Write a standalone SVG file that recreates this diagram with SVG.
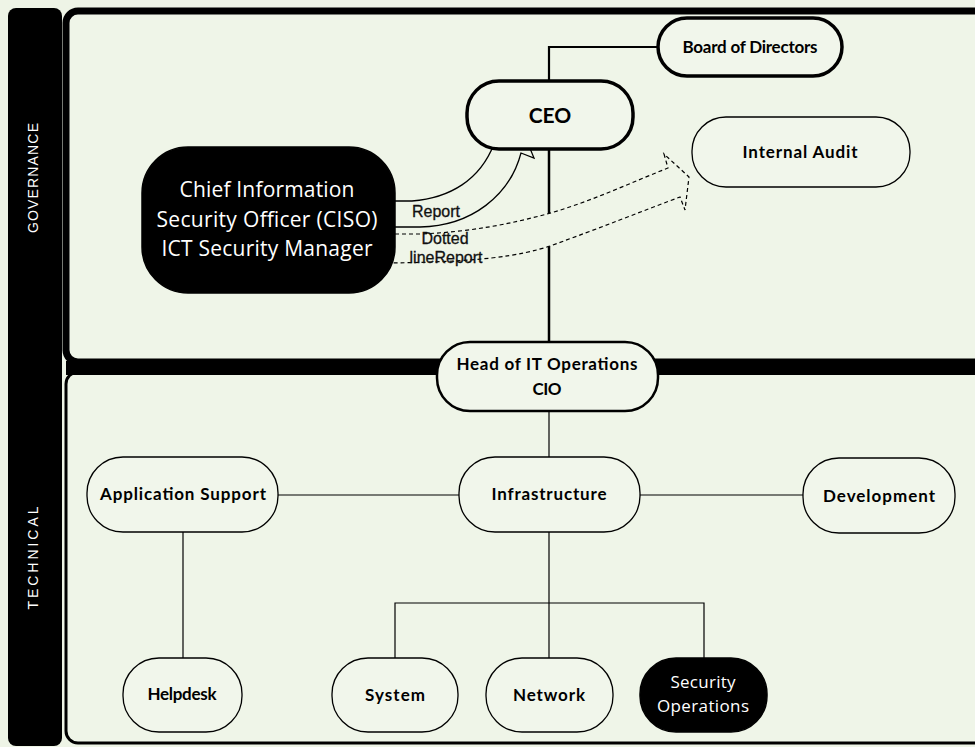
<svg xmlns="http://www.w3.org/2000/svg" width="975" height="747" viewBox="0 0 975 747">
<style>
  .bg{fill:#eef4e6}
  .pnl{fill:#eff5e8;stroke:#000}
  .node{fill:#f1f6eb;stroke:#000}
  .dark{fill:#000;stroke:#000;stroke-width:1.5}
  .w35{stroke-width:3.5}
  .w25{stroke-width:2.5}
  .w13{stroke-width:1.3}
  .lbl{font-family:Lato,"Open Sans","Liberation Sans",sans-serif;font-weight:700;font-size:17px;text-anchor:middle;fill:#000}
  .wl{font-family:"Open Sans","Liberation Sans",sans-serif;font-size:21px;text-anchor:middle;fill:#fff}
  .side{font-family:"Liberation Sans",Arial,sans-serif;font-size:14px;text-anchor:middle;fill:#fff}
  .edge{fill:none;stroke:#000}
  .elbl{font-family:"Liberation Sans",Arial,sans-serif;font-size:16px;text-anchor:middle;fill:#111;stroke:#111;stroke-width:0.3}
</style>
<rect class="bg" x="0" y="0" width="975" height="747"/>

<g id="lanes">
  <rect x="8" y="8" width="54" height="738" rx="8" fill="#000"/>
  <rect class="pnl" x="66" y="11" width="930" height="351" rx="12" stroke-width="7"/>
  <rect class="pnl" x="66" y="372" width="930" height="371" rx="12" stroke-width="3"/>
  <rect x="66" y="361" width="930" height="14" fill="#000"/>
  <text class="side" transform="translate(38,178) rotate(-90)" textLength="110">GOVERNANCE</text>
  <text class="side" transform="translate(38,558) rotate(-90)" textLength="103">TECHNICAL</text>
</g>

<g id="connectors">
  <path class="edge" d="M549,81 V47 H658" stroke-width="2.2"/>
  <path class="edge" d="M549,149 V342" stroke-width="2.5"/>
  <path class="edge" d="M549,411 V457" stroke-width="1.2"/>
  <path class="edge" d="M278,495 H459 M640,495 H803" stroke-width="1.2"/>
  <path class="edge" d="M183,532 V658" stroke-width="1.2"/>
  <path class="edge" d="M549,532 V658 M395,658 V603 H704 V658" stroke-width="1.2"/>
  <g id="edge-report">
    <path d="M388,201 L412,201 C450,198 480,180 494,144 L486,139 L515,112 L534,158 L521,153 C510,195 472,226 420,227 L388,227 Z" fill="#eff5e8" stroke="#000" stroke-width="1.3"/>
    <text class="elbl" x="436" y="217">Report</text>
  </g>
  <g id="edge-dotted">
    <path d="M388,234 L420,234 C470,232 510,224 547,214 C590,202 630,183 668,168 L664,154 L689,177 L685,210 L680,197 C640,212 600,228 550,246 C520,256 480,262 388,263 Z" fill="#eff5e8" stroke="#000" stroke-width="1.2" stroke-dasharray="4 3"/>
    <text class="elbl" x="445" y="244">Dotted</text>
    <text class="elbl" x="446" y="263">lineReport</text>
  </g>
</g>

<g id="board">
  <rect class="node w35" x="658" y="18" width="184" height="58" rx="29"/>
  <text class="lbl" x="750" y="53" textLength="135">Board of Directors</text>
</g>
<g id="ceo">
  <rect class="node w35" x="467" y="81" width="166" height="68" rx="32"/>
  <text class="lbl" x="550" y="123" style="font-size:21px">CEO</text>
</g>
<g id="internal-audit">
  <rect class="node w13" x="692" y="117" width="218" height="70" rx="34"/>
  <text class="lbl" x="800" y="158" textLength="115">Internal Audit</text>
</g>
<g id="ciso">
  <rect class="dark" x="142" y="147" width="253" height="146" rx="46"/>
  <text class="wl" x="267" y="197" textLength="175">Chief Information</text>
  <text class="wl" x="267" y="227" textLength="221">Security Officer (CISO)</text>
  <text class="wl" x="267" y="256" textLength="211">ICT Security Manager</text>
</g>
<g id="head-it">
  <rect class="node w25" x="437" y="342" width="221" height="69" rx="33"/>
  <text class="lbl" x="547" y="370" textLength="181">Head of IT Operations</text>
  <text class="lbl" x="547" y="395" textLength="29">CIO</text>
</g>
<g id="app-support">
  <rect class="node w13" x="87" y="457" width="191" height="75" rx="36"/>
  <text class="lbl" x="183" y="500" textLength="166">Application Support</text>
</g>
<g id="infrastructure">
  <rect class="node w13" x="459" y="457" width="181" height="75" rx="36"/>
  <text class="lbl" x="549" y="500" textLength="115">Infrastructure</text>
</g>
<g id="development">
  <rect class="node w13" x="803" y="458" width="152" height="75" rx="36"/>
  <text class="lbl" x="879" y="502" textLength="112">Development</text>
</g>
<g id="helpdesk">
  <rect class="node w13" x="123" y="658" width="119" height="74" rx="36"/>
  <text class="lbl" x="182" y="700" textLength="69">Helpdesk</text>
</g>
<g id="system">
  <rect class="node w13" x="332" y="658" width="126" height="74" rx="36"/>
  <text class="lbl" x="395" y="701" textLength="60">System</text>
</g>
<g id="network">
  <rect class="node w13" x="486" y="658" width="127" height="74" rx="36"/>
  <text class="lbl" x="549" y="701" textLength="72">Network</text>
</g>
<g id="security-ops">
  <rect class="dark" x="640" y="658" width="127" height="74" rx="36"/>
  <text class="wl" x="703" y="688" style="font-size:17px" textLength="65">Security</text>
  <text class="wl" x="703" y="712" style="font-size:17px" textLength="92">Operations</text>
</g>
</svg>
